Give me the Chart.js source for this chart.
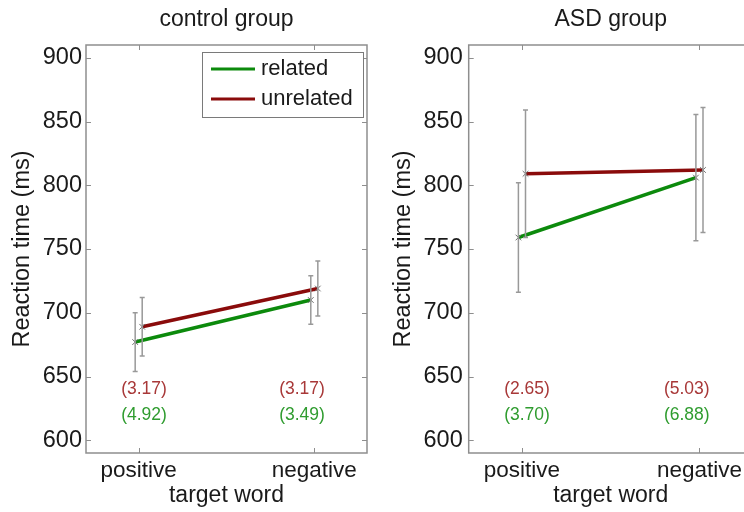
<!DOCTYPE html>
<html>
<head>
<meta charset="utf-8">
<script src="https://cdn.jsdelivr.net/npm/chart.js@4/dist/chart.umd.min.js"></script>
<style>
  html, body { margin: 0; padding: 0; background: #fff; width: 744px; height: 512px; overflow: hidden; }
  .panel { position: absolute; top: 0; }
</style>
</head>
<body>
<div class="panel" style="left:0"><canvas id="control" width="372" height="512"></canvas></div>
<div class="panel" style="left:372px"><canvas id="asd" width="400" height="512"></canvas></div>
<script>
// ---- data ----
const categories = ['positive', 'negative'];
const seriesNames = ['related', 'unrelated'];
const yTicks = [600, 650, 700, 750, 800, 850, 900];

const controlRelated = [677, 710];
const controlUnrelated = [689, 719];
const controlRelatedErr = [23, 19];
const controlUnrelatedErr = [23, 21.5];
const controlRelatedNote = ['(4.92)', '(3.49)'];
const controlUnrelatedNote = ['(3.17)', '(3.17)'];

const asdRelated = [759, 806];
const asdUnrelated = [809, 812];
const asdRelatedErr = [43, 49.5];
const asdUnrelatedErr = [50, 49];
const asdRelatedNote = ['(3.70)', '(6.88)'];
const asdUnrelatedNote = ['(2.65)', '(5.03)'];

// ---- styling ----
const FONT = '"Liberation Sans", Arial, Helvetica, sans-serif';
const TEXT = '#1a1a1a';
const GREEN = '#0c8a0c';
const RED = '#8a0b0b';
const GREEN_TXT = '#2f9c2f';
const RED_TXT = '#a83838';
const AXIS_GRAY = '#8e8e8e';
const BAR_GRAY = '#999999';
const SHIFT = 0.02;          // horizontal nudge so the two series' bars don't overlap
const NOTE_X = [0.9, 1.8];   // left edge of the per-condition notes (data units)
const NOTE_Y = { related: 620, unrelated: 640 };

Chart.defaults.font.family = FONT;
Chart.defaults.color = TEXT;

function points(values, dx) {
  return values.map((v, i) => ({ x: i + 1 + dx, y: v }));
}

// frame, inward ticks, error bars, notes and legend box
const axesDecor = {
  id: 'axesDecor',
  afterDatasetsDraw(chart, args, opts) {
    const { ctx, chartArea: a, scales: { x, y } } = chart;
    ctx.save();

    // error bars
    ctx.strokeStyle = BAR_GRAY;
    ctx.lineWidth = 1.5;
    chart.data.datasets.forEach(ds => {
      ds.data.forEach((p, i) => {
        const e = ds.errors[i];
        const px = x.getPixelForValue(p.x);
        const top = y.getPixelForValue(p.y + e);
        const bot = y.getPixelForValue(p.y - e);
        ctx.beginPath();
        ctx.moveTo(px, top); ctx.lineTo(px, bot);
        ctx.moveTo(px - 2.5, top); ctx.lineTo(px + 2.5, top);
        ctx.moveTo(px - 2.5, bot); ctx.lineTo(px + 2.5, bot);
        ctx.stroke();
      });
    });

    // axes box with inward ticks on all four sides
    ctx.strokeStyle = AXIS_GRAY;
    ctx.lineWidth = 1.5;
    ctx.strokeRect(a.left, a.top, a.right - a.left, a.bottom - a.top);
    ctx.lineWidth = 1;
    ctx.beginPath();
    y.ticks.forEach(t => {
      const py = Math.round(y.getPixelForValue(t.value)) + 0.5;
      ctx.moveTo(a.left, py); ctx.lineTo(a.left + 5, py);
      ctx.moveTo(a.right, py); ctx.lineTo(a.right - 5, py);
    });
    x.ticks.forEach(t => {
      const px = Math.round(x.getPixelForValue(t.value)) + 0.5;
      ctx.moveTo(px, a.bottom); ctx.lineTo(px, a.bottom - 5);
      ctx.moveTo(px, a.top); ctx.lineTo(px, a.top + 5);
    });
    ctx.stroke();

    // per-condition notes
    ctx.font = '17.5px ' + FONT;
    ctx.textAlign = 'left';
    ctx.textBaseline = 'middle';
    chart.data.datasets.forEach(ds => {
      ds.notes.forEach((txt, i) => {
        ctx.fillStyle = ds.noteColor;
        ctx.fillText(txt, x.getPixelForValue(NOTE_X[i]), y.getPixelForValue(NOTE_Y[ds.label]));
      });
    });

    // legend box in the upper-right corner
    if (opts.legend) {
      const w = 161, h = 65;
      const bx = a.right - 4 - w, by = a.top + 7;
      ctx.fillStyle = '#fff';
      ctx.fillRect(bx, by, w, h);
      ctx.strokeStyle = '#7a7a7a';
      ctx.lineWidth = 1;
      ctx.strokeRect(bx + 0.5, by + 0.5, w, h);
      ctx.font = '22px ' + FONT;
      ctx.textBaseline = 'middle';
      chart.data.datasets.forEach((ds, i) => {
        const ry = by + 17 + i * 30;
        ctx.strokeStyle = ds.borderColor;
        ctx.lineWidth = 3;
        ctx.beginPath();
        ctx.moveTo(bx + 9, ry); ctx.lineTo(bx + 53, ry);
        ctx.stroke();
        ctx.fillStyle = TEXT;
        ctx.fillText(ds.label, bx + 59, ry);
      });
    }
    ctx.restore();
  }
};

function makePanel(canvasId, title, rel, unrel, relErr, unrelErr, relNote, unrelNote, layout) {
  const dataset = (label, vals, errs, notes, color, noteColor, dx) => ({
    label,
    data: points(vals, dx),
    errors: errs,
    notes,
    noteColor,
    borderColor: color,
    backgroundColor: color,
    borderWidth: 3.5,
    tension: 0,
    pointStyle: 'crossRot',
    pointRadius: 4,
    pointBorderColor: '#6e6e6e',
    pointBorderWidth: 1,
    pointBackgroundColor: 'transparent'
  });

  return new Chart(document.getElementById(canvasId), {
    type: 'line',
    data: {
      datasets: [
        dataset(seriesNames[0], rel, relErr, relNote, GREEN, GREEN_TXT, -SHIFT),
        dataset(seriesNames[1], unrel, unrelErr, unrelNote, RED, RED_TXT, SHIFT)
      ]
    },
    options: {
      responsive: false,
      animation: false,
      devicePixelRatio: 1,
      layout: { padding: { left: 0, right: layout.right, top: 0, bottom: 0 } },
      plugins: {
        legend: { display: false },
        tooltip: { enabled: false },
        title: {
          display: true,
          text: title,
          fullSize: false,
          color: TEXT,
          font: { size: 23, weight: 'normal' },
          padding: { top: 5.5, bottom: 11.9 }
        },
        axesDecor: { legend: layout.legend }
      },
      scales: {
        x: {
          type: 'linear',
          min: 0.7,
          max: 2.3,
          afterBuildTicks: s => { s.ticks = categories.map((c, i) => ({ value: i + 1 })); },
          ticks: {
            callback: v => categories[Math.round(v) - 1],
            font: { size: 22.5 },
            color: TEXT,
            padding: 4.5,
            maxRotation: 0,
            autoSkip: false
          },
          grid: { display: false, drawTicks: false },
          border: { display: false },
          title: {
            display: true,
            text: 'target word',
            color: TEXT,
            font: { size: 23 },
            padding: { top: 0, bottom: 2.2 }
          },
          afterFit: s => { s.height = 59; }
        },
        y: {
          type: 'linear',
          min: 590,
          max: 910,
          afterBuildTicks: s => { s.ticks = yTicks.map(v => ({ value: v })); },
          ticks: { font: { size: 23.5 }, color: TEXT, padding: layout.tickPad },
          grid: { display: false, drawTicks: false },
          border: { display: false },
          title: {
            display: true,
            text: 'Reaction time (ms)',
            color: TEXT,
            font: { size: 23.5 },
            padding: { top: layout.titlePad, bottom: 0 }
          },
          afterFit: s => { s.width = layout.left; }
        }
      }
    },
    plugins: [axesDecor]
  });
}

makePanel('control', 'control group',
  controlRelated, controlUnrelated, controlRelatedErr, controlUnrelatedErr,
  controlRelatedNote, controlUnrelatedNote,
  { left: 86, right: 2, tickPad: 4, titlePad: 8.4, legend: true });

makePanel('asd', 'ASD group',
  asdRelated, asdUnrelated, asdRelatedErr, asdUnrelatedErr,
  asdRelatedNote, asdUnrelatedNote,
  { left: 96.7, right: 19.3, tickPad: 6, titlePad: 17.9, legend: false });
</script>
</body>
</html>
